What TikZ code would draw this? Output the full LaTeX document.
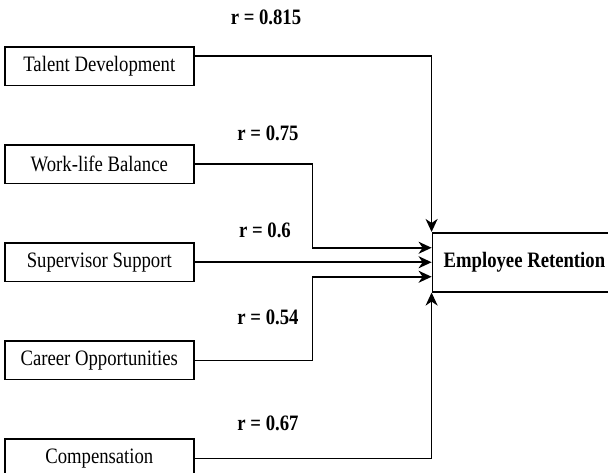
\documentclass[tikz,border=0pt]{standalone}
\usepackage{fontspec}
\setmainfont{Liberation Serif}[FakeStretch=0.85]
\usepackage{tikz}
\usetikzlibrary{arrows.meta,positioning}

\newcommand{\figfont}{\fontsize{22}{26}\selectfont}
\tikzset{
  factor/.style={draw, line width=1.6pt, minimum width=189pt, minimum height=38.5pt, inner sep=2pt},
  outcome/.style={draw, line width=1.6pt, minimum width=184pt, minimum height=59pt, font=\figfont\bfseries},
  corr/.style={font=\figfont\bfseries},
  flow/.style={line width=1.6pt, -{Stealth[length=13pt, width=12pt, inset=4pt]}},
}

\begin{document}
\begin{tikzpicture}[x=1pt, y=-1pt, node distance=58pt, every node/.style={font=\figfont}]
\useasboundingbox (0,0) rectangle (608,472);
\node[factor, anchor=north west] (talent) at (4,46) {Talent Development};
\node[factor, below=of talent] (worklife) {Work-life Balance};
\node[factor, below=of worklife] (support) {Supervisor Support};
\node[factor, below=of support] (career) {Career Opportunities};
\node[factor, below=of career] (comp) {Compensation};
\node[outcome, right=237pt of support.east] (retention) {Employee Retention};
% correlation labels
\node[corr] (r1) at (266,17) {r = 0.815};
\node[corr] (r2) at (268,133) {r = 0.75};
\node[corr] (r3) at (265,230) {r = 0.6};
\node[corr] (r4) at (268,317) {r = 0.54};
\node[corr] (r5) at (268,423) {r = 0.67};
% links
\draw[flow] ([yshift=10pt]talent.east) -| (retention.north west);
\draw[flow] (worklife.east) -- ++(118,0) |- ([yshift=14.5pt]retention.west);
\draw[flow] (support) -- (retention);
\draw[flow] (career.east) -- ++(118,0) |- ([yshift=-14.5pt]retention.west);
\draw[flow] (comp.east) -| (retention.south west);
\end{tikzpicture}
\end{document}
